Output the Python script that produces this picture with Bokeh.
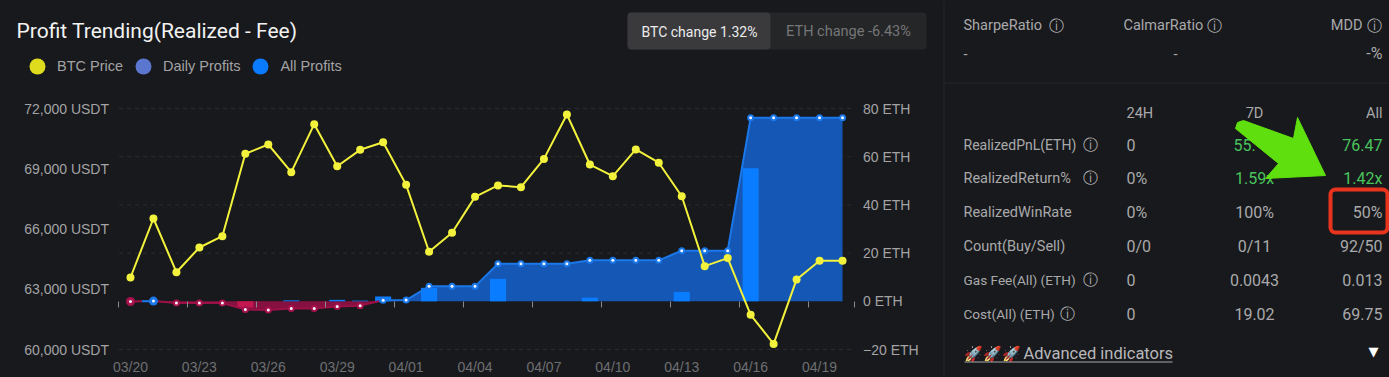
from bokeh.plotting import figure
from bokeh.models import (Label, BoxAnnotation, PolyAnnotation, LinearAxis, Range1d, FixedTicker,
                          Legend, LegendItem, ColumnDataSource)
from bokeh.embed import file_html
from bokeh.resources import INLINE
import numpy as np

dates = ["03/20","03/21","03/22","03/23","03/24","03/25","03/26","03/27","03/28","03/29","03/30","03/31",
         "04/01","04/02","04/03","04/04","04/05","04/06","04/07","04/08","04/09","04/10","04/11","04/12",
         "04/13","04/14","04/15","04/16","04/17","04/18","04/19","04/20"]
btc_price = [63585,66523,63849,65079,65641,69745,70207,68830,71220,69127,69943,70320,
             68200,64865,65810,67600,68170,68080,69490,71700,69210,68630,69960,69300,
             67630,64150,64550,61730,60280,63490,64415,64415]
all_profits = [-0.1,0.1,-0.7,-0.7,-0.7,-3.4,-3.6,-3.0,-3.0,-2.2,-1.8,0.4,
               0.5,6.2,6.2,6.2,15.6,15.6,15.6,15.6,17,17,17,17,
               21,21,21,76.2,76.2,76.2,76.2,76.2]
daily_profits = [0,0,0,0,0,-2.6,0,0.4,0,0.6,0.3,2.0,
                 0,5.6,0,0,9.3,0,0,0,1.5,0,0,0,
                 3.9,0,0,55.2,0,0,0,0]
eth_ticks = [-20,0,20,40,60,80]
eth_labels = ["\u221220 ETH","0 ETH","20 ETH","40 ETH","60 ETH","80 ETH"]
usdt_ticks = [60000,63000,66000,69000,72000]
usdt_labels = ["60,000 USDT","63,000 USDT","66,000 USDT","69,000 USDT","72,000 USDT"]

BG="#18191c"
W,H=1389,377; OX,OY=0,0      # canvas size and offset of the picture
PXD=22.97; PXE=2.41; PXB=241/12000
# ranges chosen so the whole canvas is the frame and the plot area lands where the reference has it
x0=-0.5-(118.5-OX)/PXD; x1=31.5+(W+OX-853.5)/PXD
e0=-20-(OY+H-349)/PXE; e1=80+(108-OY)/PXE
b0=60000-(OY+H-349)/PXB; b1=72000+(108-OY)/PXB
p = figure(width=W, height=H, output_backend="svg", toolbar_location=None,
           x_range=Range1d(x0,x1), y_range=Range1d(e0,e1),
           min_border=0,
           background_fill_color=BG, border_fill_color=BG, outline_line_color=None)
p.extra_y_ranges={"btc":Range1d(b0,b1)}
p.xgrid.visible=False; p.ygrid.visible=False
grid_ticks=[t for t in eth_ticks if t!=0]
p.segment(x0=[-0.5]*5,x1=[31.5]*5,y0=grid_ticks,y1=grid_ticks,line_color="#2b2c30",line_dash="4 4",line_width=1)

AX="Liberation Sans"
xa=p.xaxis[0]
xa.fixed_location=-20
xa.ticker=FixedTicker(ticks=list(range(0,31,3)))
xa.major_label_overrides={i:dates[i] for i in range(0,31,3)}
xa.axis_line_color=None; xa.major_tick_line_color=None
xa.major_tick_out=0; xa.major_tick_in=0; xa.minor_tick_line_color=None
xa.major_label_text_color="#6e6f72"; xa.major_label_text_font=AX
xa.major_label_text_font_size="14px"; xa.major_label_standoff=9

p.yaxis.visible=False
ra=LinearAxis(ticker=FixedTicker(ticks=eth_ticks), major_label_overrides=dict(zip(eth_ticks,eth_labels)),fixed_location=31.5)
la=LinearAxis(y_range_name="btc",ticker=FixedTicker(ticks=usdt_ticks), major_label_overrides=dict(zip(usdt_ticks,usdt_labels)),fixed_location=-0.5)
for ax,st in ((ra,9),(la,10)):
    ax.axis_line_color=None; ax.major_tick_line_color=None; ax.minor_tick_line_color=None
    ax.major_tick_out=0; ax.major_tick_in=0
    ax.major_label_text_color="#a3a3a5"; ax.major_label_text_font=AX
    ax.major_label_text_font_size="14px"; ax.major_label_standoff=st
p.add_layout(ra,"right"); p.add_layout(la,"left")

tick_pos=[i-0.5 for i in range(0,31,3)]+[31.5]
ta=LinearAxis(ticker=FixedTicker(ticks=tick_pos), fixed_location=0,
              major_label_overrides={t:"" for t in tick_pos})
ta.axis_line_color=None; ta.major_tick_line_color="#8a8a8c"; ta.minor_tick_line_color=None
ta.major_tick_in=0; ta.major_tick_out=6; ta.major_label_text_font_size="1px"; ta.major_label_standoff=0
p.add_layout(ta,"below")

# split cumulative curve at zero crossings
xs=[];ys=[]
for i,v in enumerate(all_profits):
    if i and (all_profits[i-1]<0)!=(v<0):
        a=all_profits[i-1]; xs.append(i-1+abs(a)/(abs(a)+abs(v))); ys.append(0.0)
    xs.append(float(i)); ys.append(float(v))
xs=np.array(xs); ys=np.array(ys)
p.varea(xs,0,np.maximum(ys,0),fill_color="#1557b4")
p.varea(xs,0,np.minimum(ys,0),fill_color="#86103f")
colors=[("#0a7cff" if v>=0 else "#c4164f") for v in daily_profits]
p.vbar(x=list(range(32)),top=daily_profits,width=0.7,fill_color=colors,line_color=None)
p.line(xs,np.where(ys>=0,ys,np.nan),line_color="#1a78ea",line_width=2)
p.line(xs,np.where(ys<=0,ys,np.nan),line_color="#9c1048",line_width=2)
mc=["#1a78ea" if v>=0 else "#a8124c" for v in all_profits]
ms=[9 if i<2 else 7 for i in range(32)]
p.scatter(list(range(32)),all_profits,size=ms,fill_color=mc,line_color=None)
p.scatter(list(range(32)),all_profits,size=3,fill_color="#f4f7ff",line_color=None)
p.line(list(range(32)),btc_price,y_range_name="btc",line_color="#f2f23c",line_width=2)
p.scatter(list(range(32)),btc_price,y_range_name="btc",size=8,fill_color="#f2f23c",line_color=None)

# legend keys: a point parked outside the visible range so that each key has something to draw
e=ColumnDataSource(data=dict(x=[-1000],y=[-1000]))
r1=p.scatter("x","y",source=e,fill_color="#dedc1c",line_color=None)
r2=p.scatter("x","y",source=e,fill_color="#5b76cf",line_color=None)
r3=p.scatter("x","y",source=e,fill_color="#0a7bff",line_color=None)
leg=Legend(items=[LegendItem(label="BTC Price",renderers=[r1],index=0),LegendItem(label="Daily Profits",renderers=[r2],index=0),LegendItem(label="All Profits",renderers=[r3],index=0)],
           orientation="horizontal",location=(17-OX,OY+H-86),glyph_width=40,glyph_height=40,padding=0,margin=0,spacing=0,
           label_standoff=0,background_fill_alpha=0,border_line_alpha=0,
           label_text_font=AX,label_text_font_size="14.5px",label_text_color="#a3a3a5",label_height=40)
p.add_layout(leg,"center")

def box(x0,y0,x1,y1,fill=None,line=None,lw=0,r=0):
    b=BoxAnnotation(left=x0-OX,right=x1-OX,bottom=OY+H-y1,top=OY+H-y0,
        left_units="screen",right_units="screen",top_units="screen",bottom_units="screen",
        fill_color=fill,fill_alpha=1 if fill else 0,line_color=line,line_alpha=1 if line else 0,line_width=lw,border_radius=r,editable=False)
    p.add_layout(b)
def text(x,y,s,color="#a9a9ab",size=14.5,font="Roboto",align="left"):
    p.add_layout(Label(x=x-OX,y=OY+H-y,text=s,x_units="screen",y_units="screen",text_color=color,
                       text_font_size=f"{size}px",text_font=font,text_align=align,text_baseline="middle"))
def icon(x,y): text(x,y,"\u24d8","#b0b0b2",15,"DejaVu Sans","center")

box(943,0,944,377,fill="#252629"); box(943,82,1389,83,fill="#252629")
box(627,12,926,49,fill="#252628",r=4); box(627,12,770,49,fill="#3a3a3d",r=4)
text(16,30,"Profit Trending(Realized - Fee)","#f2f2f2",21)
text(699,31,"BTC change 1.32%","#ececec",14,align="center")
text(848,31,"ETH change -6.43%","#757678",14.5,align="center")

G="#49c45c"; T="#a9a9ab"; VS=16
text(963,25,"SharpeRatio",T); icon(1056,25)
text(1123,25,"CalmarRatio",T); icon(1214,25)
text(1362,25,"MDD",T,align="right"); icon(1374,25)
text(963,53,"-",T); text(1173,53,"-",T); text(1382,53,"-%",T,VS,align="right")
text(1126,113,"24H",T); text(1254,113,"7D",T,align="center"); text(1382,113,"All",T,align="right")
rows=[(144,"RealizedPnL(ETH)",14,1090,"0","55.","76.47",True),
      (178,"RealizedReturn%",14.5,1090,"0%","1.59x","1.42x",True),
      (212,"RealizedWinRate",14.5,None,"0%","100%","50%",False),
      (246,"Count(Buy/Sell)",14.5,None,"0/0","0/11","92/50",False),
      (279,"Gas Fee(All) (ETH)",13.6,1090,"0","0.0043","0.013",False),
      (313,"Cost(All) (ETH)",13.6,1067,"0","19.02","69.75",False)]
for y,l,ls,ix,a,b,c,g in rows:
    text(963,y,l,T,ls)
    if ix: icon(ix,y-1 if y==178 else y)
    text(1126,y,a,T,VS)
    text(1233 if b=="55." else 1254,y,b,G if g else T,VS,align="left" if b=="55." else "center")
    text(1382,y,c,G if g else T,VS,align="right")
text(963,353,"\U0001F680\U0001F680\U0001F680","#ffffff",15,"DejaVu Sans")
text(1023,353,"Advanced indicators","#b8b8ba",16.5)
box(964,361,1172,362,fill="#a9a9ab")
text(1373,351,"\u25BC","#ffffff",13,"DejaVu Sans","center")

box(1330,189,1387,232,line="#e8341c",lw=4,r=5)
ax=[1237,1243,1293,1297,1325,1265,1278,1235]; ay=[122,120,138,117,175,178,163,128]
p.add_layout(PolyAnnotation(xs=[v-OX for v in ax],ys=[OY+H-v for v in ay],xs_units="screen",ys_units="screen",
                            fill_color="#5fe00e",fill_alpha=1,line_color="#5fe00e",line_alpha=1,editable=False))
html=file_html(p,INLINE).replace("</head>","<style>html,body{background:#18191c}</style></head>",1)
open("out.html","w").write(html)
